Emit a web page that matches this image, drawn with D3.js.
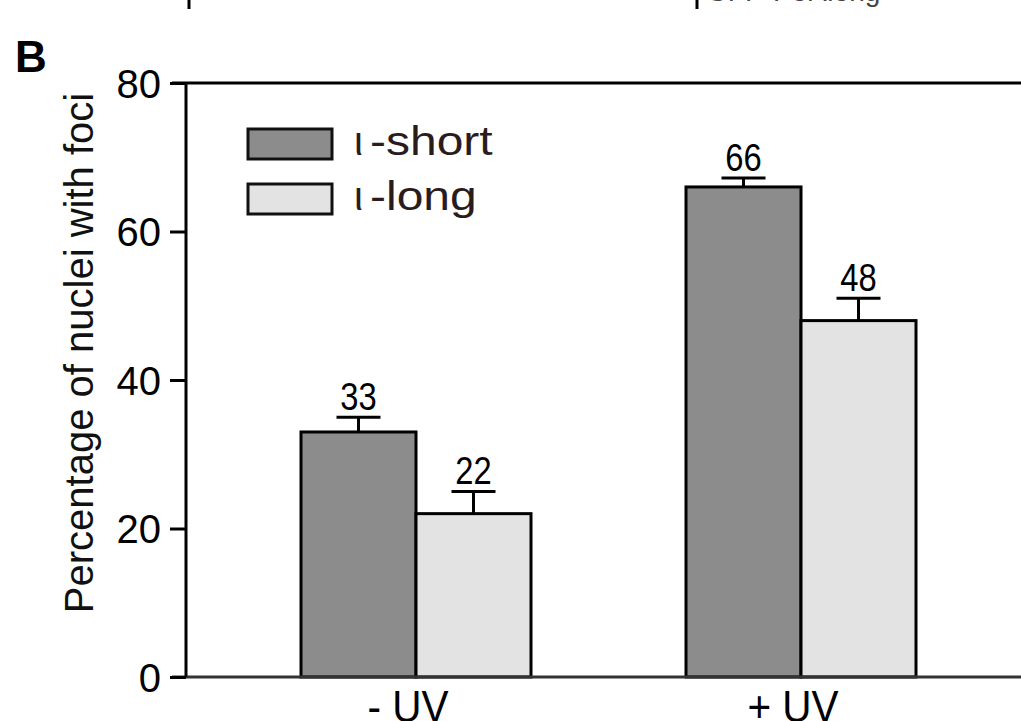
<!DOCTYPE html>
<html>
<head>
<meta charset="utf-8">
<script src="https://cdn.jsdelivr.net/npm/d3@7"></script>
<style>
  body { margin: 0; background: #fff; }
  text { font-family: "Liberation Sans", Arial, sans-serif; }
</style>
</head>
<body>
<svg id="chart" width="1021" height="721"></svg>
<script>
// data
var groups = ['- UV', '+ UV'];
var series = ['ι-short', 'ι-long'];
var shortValues = [33, 66];
var longValues = [22, 48];
var shortErrors = [2, 1.2];
var longErrors = [3, 3];
var yTicks = [0, 20, 40, 60, 80];

var colors = { 'ι-short': '#8c8c8c', 'ι-long': '#e3e3e3' };

var svg = d3.select('#chart');

var plotLeft = 186, plotRight = 1021, plotTop = 83, plotBottom = 677;

var y = d3.scaleLinear().domain([0, 80]).range([plotBottom, plotTop]);

// bars span 301-531 and 686-916
var x0 = d3.scaleBand().domain(groups).range([301, 916]).paddingInner(155 / 385).paddingOuter(0);
var x1 = d3.scaleBand().domain(series).range([0, x0.bandwidth()]);

var rows = groups.map(function(g, i) {
  return [
    { group: g, key: series[0], value: shortValues[i], err: shortErrors[i] },
    { group: g, key: series[1], value: longValues[i], err: longErrors[i] }
  ];
});

// cut-off panel titles at the very top (only the bottoms show)
svg.append('line').attr('x1', 189).attr('x2', 189).attr('y1', 0).attr('y2', 9)
  .attr('stroke', '#000').attr('stroke-width', 3);
svg.append('line').attr('x1', 697).attr('x2', 697).attr('y1', 0).attr('y2', 9)
  .attr('stroke', '#000').attr('stroke-width', 3);
svg.append('text').attr('x', 197).attr('y', 0).attr('font-size', 28).attr('fill', '#aaa')
  .text('GFP-Pol ιshort');
svg.append('text').attr('x', 706).attr('y', 1).attr('font-size', 28).attr('fill', '#444')
  .text('GFP-Pol ιlong');

// panel letter
svg.append('text').attr('x', 15).attr('y', 72).attr('font-size', 44)
  .attr('font-weight', 'bold').text('B');

// bars
var g = svg.append('g');
var groupSel = g.selectAll('.grp').data(rows).enter().append('g')
  .attr('transform', function(d, i) { return 'translate(' + x0(groups[i]) + ',0)'; });

groupSel.selectAll('rect').data(function(d) { return d; }).enter().append('rect')
  .attr('x', function(d) { return x1(d.key); })
  .attr('y', function(d) { return y(d.value); })
  .attr('width', x1.bandwidth())
  .attr('height', function(d) { return plotBottom - y(d.value); })
  .attr('fill', function(d) { return colors[d.key]; })
  .attr('stroke', '#000').attr('stroke-width', 3);

// error bars
var err = groupSel.selectAll('.err').data(function(d) { return d; }).enter().append('g');
err.append('line')
  .attr('x1', function(d) { return x1(d.key) + x1.bandwidth() / 2; })
  .attr('x2', function(d) { return x1(d.key) + x1.bandwidth() / 2; })
  .attr('y1', function(d) { return y(d.value); })
  .attr('y2', function(d) { return y(d.value + d.err); })
  .attr('stroke', '#000').attr('stroke-width', 3);
err.append('line')
  .attr('x1', function(d) { return x1(d.key) + x1.bandwidth() / 2 - 22; })
  .attr('x2', function(d) { return x1(d.key) + x1.bandwidth() / 2 + 22; })
  .attr('y1', function(d) { return y(d.value + d.err); })
  .attr('y2', function(d) { return y(d.value + d.err); })
  .attr('stroke', '#000').attr('stroke-width', 3);
err.append('text')
  .attr('transform', function(d) {
    return 'translate(' + (x1(d.key) + x1.bandwidth() / 2) + ',' + (y(d.value + d.err) - 7) + ') scale(0.84,1)';
  })
  .attr('text-anchor', 'middle').attr('font-size', 39)
  .text(function(d) { return d.value; });

// frame lines
svg.append('line').attr('x1', 172).attr('x2', plotRight).attr('y1', plotTop).attr('y2', plotTop)
  .attr('stroke', '#000').attr('stroke-width', 3);
svg.append('line').attr('x1', 172).attr('x2', plotRight).attr('y1', plotBottom).attr('y2', plotBottom)
  .attr('stroke', '#333').attr('stroke-width', 3);

// y axis
var yAxis = d3.axisLeft(y).tickValues(yTicks).tickSize(16).tickPadding(9);
var ya = svg.append('g').attr('transform', 'translate(' + plotLeft + ',0)').call(yAxis);
ya.select('.domain').attr('stroke', '#000').attr('stroke-width', 3)
  .attr('d', 'M0,' + plotTop + 'V' + plotBottom);
ya.selectAll('.tick line').attr('stroke', '#000').attr('stroke-width', 3);
ya.selectAll('.tick text').attr('font-size', 40).attr('fill', '#000')
  .attr('font-family', '"Liberation Sans", Arial, sans-serif')
  .attr('dy', '0.36em');

svg.append('text')
  .attr('transform', 'translate(93,353) rotate(-90)')
  .attr('text-anchor', 'middle').attr('font-size', 40).attr('fill', '#111')
  .text('Percentage of nuclei with foci');

// category labels
svg.selectAll('.cat').data(groups).enter().append('text')
  .attr('transform', function(d) { return 'translate(' + (x0(d) + x0.bandwidth() / 2 - 8) + ',722) scale(0.9,1)'; })
  .attr('text-anchor', 'middle').attr('font-size', 45).attr('fill', '#000')
  .text(function(d) { return d; });

// legend
var legend = svg.selectAll('.leg').data(series).enter().append('g')
  .attr('transform', function(d, i) { return 'translate(248,' + (129 + i * 55) + ')'; });
legend.append('rect').attr('width', 84).attr('height', 30)
  .attr('fill', function(d) { return colors[d]; })
  .attr('stroke', '#111').attr('stroke-width', 3);
legend.append('text').attr('x', 106).attr('y', 26).attr('font-size', 40).attr('fill', '#2a1c1c')
  .text(function(d) { return d.charAt(0); });
legend.append('text').attr('transform', 'translate(122,26) scale(1.2,1)')
  .attr('font-size', 40).attr('fill', '#2a1c1c')
  .text(function(d) { return d.slice(1); });
</script>
</body>
</html>
